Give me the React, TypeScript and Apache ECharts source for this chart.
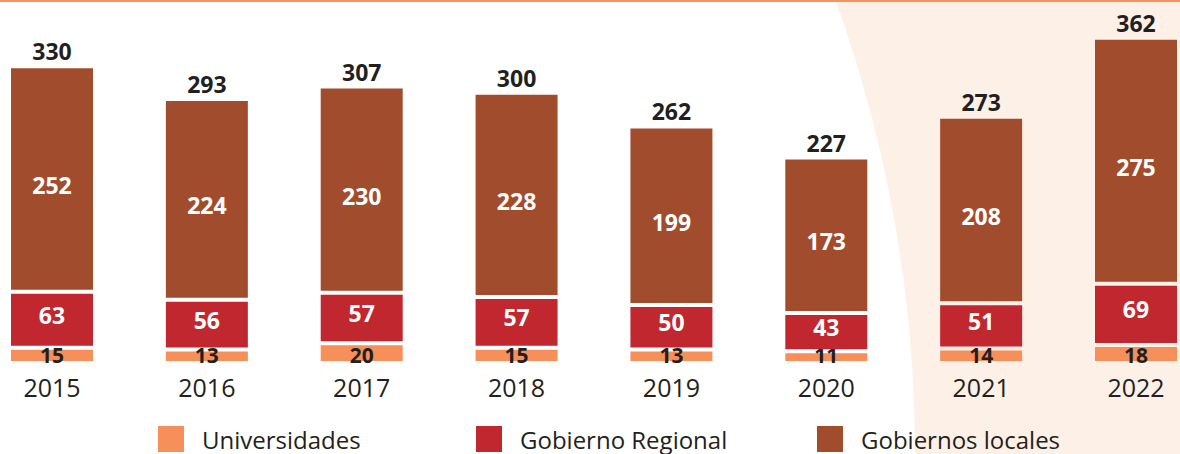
import React, { useEffect, useRef } from "react";
import * as echarts from "echarts";

const years = ["2015", "2016", "2017", "2018", "2019", "2020", "2021", "2022"];
const universidades = [15, 13, 20, 15, 13, 11, 14, 18];
const gobiernoRegional = [63, 56, 57, 57, 50, 43, 51, 69];
const gobiernosLocales = [252, 224, 230, 228, 199, 173, 208, 275];

const FONT = '"Open Sans", "Noto Sans", sans-serif';
const DARK = "#231F20";
const C_UNI = "#F68F5A";
const C_REG = "#C1272F";
const C_LOC = "#A24C2E";
const PEACH = "#FDF0E7";

const BAR_W = 82;
const GAP = 2;

// labelMode: "center" places the label in the middle of the segment, "base" near the base line
function makeRender(
  color: string,
  textColor: string,
  isBottom: boolean,
  isTop: boolean,
  labelOffset: number,
  fs: number,
  labelMode: "center" | "base"
) {
  return (params: any, api: any) => {
    const i = api.value(0);
    const lo = api.value(1);
    const hi = api.value(2);
    const v = api.value(3);
    const pLo = api.coord([i, lo]);
    const pHi = api.coord([i, hi]);
    const yTop = pHi[1] + (isTop ? 0 : GAP);
    const yBot = pLo[1] - (isBottom ? 0 : GAP);
    const ly = labelMode === "base" ? yBot + labelOffset : (yTop + yBot) / 2 + labelOffset;
    const children: any[] = [
      {
        type: "rect",
        shape: { x: pLo[0] - BAR_W / 2, y: yTop, width: BAR_W, height: Math.max(0, yBot - yTop) },
        style: { fill: color },
      },
      {
        type: "text",
        style: {
          text: String(v),
          x: pLo[0],
          y: ly,
          align: "center",
          verticalAlign: "middle",
          fill: textColor,
          fontSize: fs,
          lineHeight: 16,
          fontWeight: "bold",
          fontFamily: FONT,
        },
      },
    ];
    if (isTop) {
      children.push({
        type: "text",
        style: {
          text: String(hi),
          x: pLo[0],
          y: yTop - 17,
          align: "center",
          verticalAlign: "middle",
          fill: DARK,
          fontSize: 23,
          lineHeight: 18,
          fontWeight: "bold",
          fontFamily: FONT,
        },
      });
    }
    return { type: "group", children };
  };
}

export default function App() {
  const ref = useRef<HTMLDivElement>(null);
  useEffect(() => {
    if (!ref.current) return;
    const chart = echarts.init(ref.current, undefined, { renderer: "svg" });

    const uniData = years.map((_, i) => [i, 0, universidades[i], universidades[i]]);
    const regData = years.map((_, i) => [
      i,
      universidades[i],
      universidades[i] + gobiernoRegional[i],
      gobiernoRegional[i],
    ]);
    const locData = years.map((_, i) => [
      i,
      universidades[i] + gobiernoRegional[i],
      universidades[i] + gobiernoRegional[i] + gobiernosLocales[i],
      gobiernosLocales[i],
    ]);

    const legendBase = (name: string, left: number) => ({
      data: [name],
      left,
      top: 426,
      padding: 0,
      itemWidth: 26,
      itemHeight: 26,
      icon: "rect",
      selectedMode: false,
      textStyle: { fontSize: 24, lineHeight: 24, color: DARK, fontFamily: FONT, padding: [0, 0, 0, 13] },
    });

    chart.setOption({
      animation: false,
      backgroundColor: "#ffffff",
      graphic: [
        { type: "rect", silent: true, z: -10, shape: { x: 780, y: 0, width: 400, height: 454 }, style: { fill: PEACH } },
        { type: "circle", silent: true, z: -9, shape: { cx: -420, cy: 454, r: 1335 }, style: { fill: "#ffffff" } },
        { type: "rect", silent: true, z: -8, shape: { x: 0, y: 0, width: 1180, height: 2 }, style: { fill: "#F69360" } },
      ],
      grid: { left: 52, right: 44, top: 6, bottom: 93 },
      xAxis: {
        type: "category",
        data: years,
        boundaryGap: false,
        axisLine: { show: false },
        axisTick: { show: false },
        axisLabel: { fontSize: 25, lineHeight: 22, color: DARK, fontFamily: FONT, margin: 15 },
      },
      yAxis: { type: "value", min: 0, max: 400, show: false, splitLine: { show: false } },
      legend: [
        legendBase("Universidades", 158),
        legendBase("Gobierno Regional", 476),
        legendBase("Gobiernos locales", 817),
      ],
      series: [
        {
          name: "Universidades",
          type: "custom",
          color: C_UNI,
          itemStyle: { color: C_UNI },
          encode: { x: 0, y: [1, 2] },
          renderItem: makeRender(C_UNI, DARK, true, false, -6, 21, "base"),
          data: uniData,
        },
        {
          name: "Gobierno Regional",
          type: "custom",
          color: C_REG,
          itemStyle: { color: C_REG },
          encode: { x: 0, y: [1, 2] },
          renderItem: makeRender(C_REG, "#ffffff", false, false, -5, 23, "center"),
          data: regData,
        },
        {
          name: "Gobiernos locales",
          type: "custom",
          color: C_LOC,
          itemStyle: { color: C_LOC },
          encode: { x: 0, y: [1, 2] },
          renderItem: makeRender(C_LOC, "#ffffff", false, true, 6, 23, "center"),
          data: locData,
        },
      ],
    });
    return () => chart.dispose();
  }, []);
  return <div ref={ref} style={{ position: "absolute", left: 0, top: 0, width: 1180, height: 454 }} />;
}
